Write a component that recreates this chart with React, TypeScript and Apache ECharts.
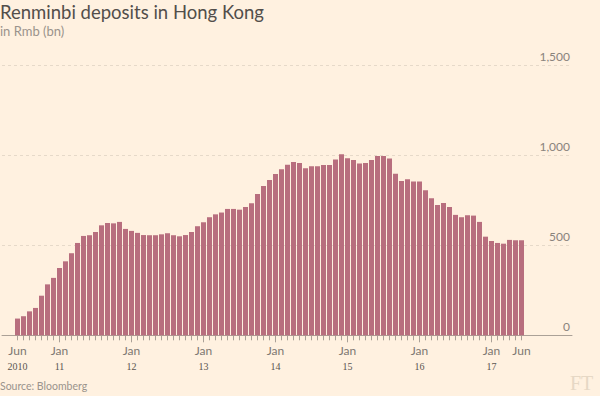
import React, { useEffect, useRef } from 'react';
import * as echarts from 'echarts';

const monthNames = ['Jan', 'Feb', 'Mar', 'Apr', 'May', 'Jun', 'Jul', 'Aug', 'Sep', 'Oct', 'Nov', 'Dec'];
const categories: string[] = [];
for (let y = 2010; y <= 2017; y++) {
  for (let m = 0; m < 12; m++) {
    if (y === 2010 && m < 5) continue;
    if (y === 2017 && m > 5) continue;
    categories.push(monthNames[m] + ' ' + y);
  }
}

// Renminbi deposits in Hong Kong, Rmb bn, monthly Jun 2010 - Jun 2017
const deposits = [
  93, 106, 133, 152, 220, 283, 319, 374, 411, 456,
  513, 552, 556, 574, 611, 624, 622, 630, 591, 580,
  569, 557, 556, 556, 561, 567, 556, 550, 557, 574,
  606, 628, 656, 672, 682, 702, 702, 698, 713, 733,
  785, 830, 863, 896, 922, 948, 963, 957, 928, 939,
  939, 946, 946, 976, 1006, 983, 974, 954, 957, 974,
  996, 996, 982, 898, 857, 867, 854, 854, 806, 761,
  724, 735, 713, 669, 656, 667, 665, 630, 548, 524,
  513, 509, 530, 528, 528,
];

const labelCategories = ['Jun 2010', 'Jan 2011', 'Jan 2012', 'Jan 2013', 'Jan 2014', 'Jan 2015', 'Jan 2016', 'Jan 2017', 'Jun 2017'];
const labelMonths = ['Jun', 'Jan', 'Jan', 'Jan', 'Jan', 'Jan', 'Jan', 'Jan', 'Jun'];
const labelYears = ['2010', '11', '12', '13', '14', '15', '16', '17', ''];

const yTicks = { min: 0, max: 1500, interval: 500 };

const SANS = 'Lato, "Open Sans", sans-serif';
const SERIF = '"Liberation Serif", "DejaVu Serif", serif';

export default function App() {
  const ref = useRef<HTMLDivElement>(null);
  useEffect(() => {
    if (!ref.current) return;
    const chart = echarts.init(ref.current, null, { renderer: 'svg' });
    const gridBox = { top: 65.3, bottom: 60.7 };
    chart.setOption({
      animation: false,
      backgroundColor: '#fff1e0',
      grid: [
        { left: 2, right: 28, ...gridBox },
        { left: 14.5, width: 510, ...gridBox },
      ],
      xAxis: [
        {
          gridIndex: 0, type: 'value', min: 0, max: 1,
          axisLine: { show: true, lineStyle: { color: '#aba197', width: 1 } },
          axisTick: { show: false }, axisLabel: { show: false }, splitLine: { show: false },
        },
        {
          gridIndex: 1, type: 'category', data: categories, position: 'bottom',
          axisLine: { show: false },
          axisTick: { show: true, alignWithLabel: true, interval: 0, length: 5, lineStyle: { color: '#aba197' } },
          axisLabel: { show: false },
        },
        {
          gridIndex: 1, type: 'category', data: categories, position: 'bottom',
          axisLine: { show: false },
          axisTick: {
            show: true, alignWithLabel: true, length: 7, lineStyle: { color: '#aba197' },
            interval: (i: number, v: string) => v.startsWith('Jan'),
          },
          axisLabel: {
            interval: (i: number, v: string) => labelCategories.indexOf(v) >= 0,
            margin: 8,
            formatter: (v: string) => {
              const k = labelCategories.indexOf(v);
              if (k < 0) return '';
              return labelYears[k] ? `{m|${labelMonths[k]}}\n{y|${labelYears[k]}}` : `{m|${labelMonths[k]}}`;
            },
            rich: {
              m: { fontFamily: SANS, fontSize: 12, lineHeight: 15, color: '#7d7772' },
              y: { fontFamily: SERIF, fontSize: 10, lineHeight: 16, color: '#5a5550' },
            },
          },
        },
      ],
      yAxis: [
        {
          gridIndex: 0, type: 'value', position: 'right', ...yTicks,
          axisLine: { show: false }, axisTick: { show: false },
          splitLine: { show: true, lineStyle: { color: '#e6d9c9', type: [3, 3], width: 1 } },
          axisLabel: {
            inside: true, margin: 2, verticalAlign: 'bottom', padding: [0, 0, 3, 0],
            fontFamily: SANS, fontSize: 12, color: '#8a837d',
            formatter: (v: number) => v.toLocaleString('en-US'),
          },
        },
        { gridIndex: 1, type: 'value', ...yTicks, show: false, splitLine: { show: false } },
      ],
      series: [
        {
          type: 'bar', xAxisIndex: 2, yAxisIndex: 1, data: deposits, barWidth: 5,
          itemStyle: { color: '#b86e7e' },
        },
      ],
      graphic: [
        { type: 'text', x: 0, y: 12, style: { text: 'Renminbi deposits in Hong Kong', fontFamily: SANS, fontSize: 18.5, fill: '#524e4b', verticalAlign: 'middle' } },
        { type: 'text', x: 0, y: 31, style: { text: 'in Rmb (bn)', fontFamily: SANS, fontSize: 13, fill: '#9a938c', verticalAlign: 'middle' } },
        { type: 'text', x: 0, y: 386, style: { text: 'Source: Bloomberg', fontFamily: SANS, fontSize: 10.5, fill: '#9a938c', verticalAlign: 'middle' } },
        { type: 'text', x: 570, y: 383, style: { text: 'FT', fontFamily: SERIF, fontSize: 20, fill: '#e6d8c5', verticalAlign: 'middle' } },
      ],
    });
    return () => chart.dispose();
  }, []);
  return <div ref={ref} style={{ position: 'fixed', left: 0, top: 0, width: 600, height: 396 }} />;
}
